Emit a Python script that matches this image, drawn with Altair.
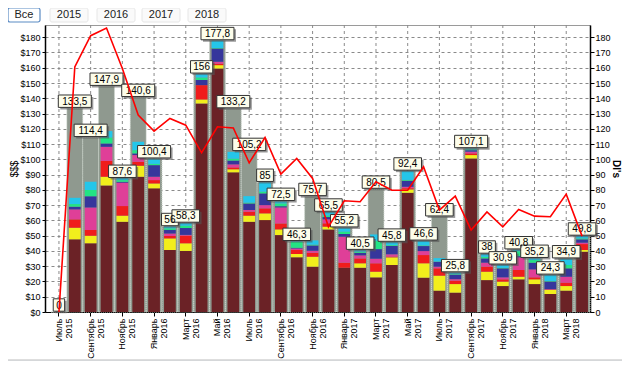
import altair as alt
import pandas as pd

months = ["Июль 2015", "Август 2015", "Сентябрь 2015", "Октябрь 2015", "Ноябрь 2015", "Декабрь 2015",
          "Январь 2016", "Февраль 2016", "Март 2016", "Апрель 2016", "Май 2016", "Июнь 2016",
          "Июль 2016", "Август 2016", "Сентябрь 2016", "Октябрь 2016", "Ноябрь 2016", "Декабрь 2016",
          "Январь 2017", "Февраль 2017", "Март 2017", "Апрель 2017", "Май 2017", "Июнь 2017",
          "Июль 2017", "Август 2017", "Сентябрь 2017", "Октябрь 2017", "Ноябрь 2017", "Декабрь 2017",
          "Январь 2018", "Февраль 2018", "Март 2018", "Апрель 2018"]

totals = [0, 133.5, 114.4, 147.9, 87.6, 140.6, 100.4, 56, 58.3, 156, 177.8, 133.2, 105.2, 85, 72.5,
          46.3, 75.7, 65.5, 55.2, 40.5, 80.5, 45.8, 92.4, 46.6, 62.4, 25.8, 107.1, 38, 30.9, 40.8,
          35.2, 24.3, 34.9, 49.8]

brown = [0, 47.6, 45, 82.9, 59.1, 88.6, 81, 40.6, 40, 136.6, 159.5, 91.5, 59.1, 60.2, 50.4, 35.8, 29.7,
         54.1, 29, 29, 22.7, 30.8, 78.1, 22.5, 14, 12.7, 100.6, 20.9, 17, 21.4, 18.3, 11.8, 14, 39.5]
yellow = [0, 7.6, 5, 5.7, 4, 7.2, 3.2, 7.6, 5, 2.6, 2.2, 2, 4, 4.4, 3.7, 2.2, 6.5, 1.8, 0, 2.9, 3.7, 5,
          2.2, 9.4, 9.8, 5.6, 2.2, 5.5, 2.9, 1.7, 3.1, 2.6, 3, 1.1]
red = [0, 5.5, 3.7, 10.4, 6.3, 2.6, 2.2, 1.6, 5, 9.4, 1, 1.2, 2.6, 3.3, 3.9, 2.6, 2.6, 2.2, 3.3, 3.2, 5.5,
       0.5, 0.8, 5.4, 4.8, 2.2, 1.1, 3.3, 1.5, 4.4, 1.3, 0.3, 2.2, 3.9]
magenta = [0, 6.5, 14.8, 9.2, 15.3, 4.4, 2.2, 1.6, 0.5, 0, 1.2, 2, 1.1, 2.1, 10.5, 1, 1.3, 2.6, 17, 2, 3,
           1.5, 0.9, 2.6, 1.1, 1, 1.1, 2.6, 1.3, 8.3, 5.2, 0.3, 3.9, 0.9]
blue = [0, 1.8, 7.4, 2.2, 0.6, 1.1, 7.6, 2.4, 4.5, 3.4, 8.7, 2.5, 4.3, 7.7, 0.8, 0.5, 3.5, 1.5, 1.8, 1.7,
        6.3, 5.5, 4, 3.3, 3.2, 3, 1, 2.8, 5.9, 0.8, 4.4, 5, 5.5, 2.2]
green = [0, 1.7, 4, 3.9, 1.1, 2.1, 0.8, 1, 1.5, 1.6, 0.3, 1.2, 0.5, 1.1, 1.8, 3.7, 0.5, 1, 1.5, 0.7, 5.4,
         0.5, 0.5, 0.4, 0.2, 0.3, 0.5, 1, 0.3, 3.2, 1.7, 0.3, 2.2, 0.6]
cyan = [0, 4.1, 5.4, 4.2, 1.5, 5.5, 3.4, 1.2, 1.8, 2.4, 4.9, 4.5, 4.3, 6.2, 1.4, 0.5, 2.8, 2.3, 2.6, 1,
        4.2, 2, 5.9, 3, 2.2, 1, 0.6, 1.9, 2, 1, 1.2, 4, 4.1, 1.6]

di = [0, 160.5, 181, 186, 159.5, 129, 118.5, 126.8, 122.4, 104.3, 121.3, 120.6, 97.7, 114.3, 90.3, 100.6,
      87.5, 55.8, 72.9, 72.2, 85.3, 79.8, 79.8, 95.1, 66.8, 75.9, 53.7, 65.6, 55.8, 67.2, 62.8, 62.4,
      77.2, 49.7]

series_names = ["s1", "s2", "s3", "s4", "s5", "s6", "s7"]
series_vals = [brown, yellow, red, magenta, blue, green, cyan]
series_colors = ["#6b2226", "#f2ee1c", "#f01c1c", "#df3f98", "#36369c", "#22e484", "#24c6ea"]

buttons = ["Все", "2015", "2016", "2017", "2018"]
y_ticks = list(range(0, 181, 10))
even_months = months[::2]

FONT = "Liberation Sans"

base_df = pd.DataFrame({"month": months, "total": totals, "di": di})
long_df = pd.DataFrame([
    {"month": m, "series": s, "ord": k, "value": vals[i]}
    for k, (s, vals) in enumerate(zip(series_names, series_vals))
    for i, m in enumerate(months)
])
grid_df = pd.DataFrame({"month": even_months})

xscale = alt.Scale(domain=months, paddingInner=0, paddingOuter=0.19, align=1)
xaxis = alt.Axis(values=even_months, labelExpr="split(datum.value, ' ')", labelAngle=-90,
                 labelFontSize=9, labelLineHeight=10, title=None, tickSize=4, grid=False,
                 labelPadding=2, domainColor="black", tickColor="black")
X = alt.X("month:N", scale=xscale, axis=xaxis, sort=months)
yscale = alt.Scale(domain=[0, 188], nice=False, zero=True)

vgrid = alt.Chart(grid_df).mark_rule(color="#8a8a8a", strokeDash=[3, 3], strokeWidth=1).encode(
    x=alt.X("month:N", scale=xscale, axis=xaxis, sort=months, bandPosition=0.5)
)

gray = alt.Chart(base_df).mark_bar(
    color="#8f998f", width=alt.RelativeBandSize(1.0), stroke="#c9d2c9", strokeWidth=1,
    strokeDash=[1, 1]
).encode(
    x=X,
    y=alt.Y("total:Q", scale=yscale, axis=alt.Axis(
        values=y_ticks, labelExpr="'$' + datum.value", title="$$$", titleFontSize=10,
        titleFontWeight="normal", titlePadding=0, labelFontSize=9, tickSize=3, labelPadding=2,
        grid=True, gridDash=[3, 3], gridColor="#8a8a8a", domainColor="black", tickColor="black",
        domainWidth=1.5))
)

stacked = alt.Chart(long_df).mark_bar(width=alt.RelativeBandSize(0.74)).encode(
    x=X,
    y=alt.Y("value:Q", stack="zero", scale=yscale, axis=None),
    color=alt.Color("series:N", scale=alt.Scale(domain=series_names, range=series_colors), legend=None),
    order=alt.Order("ord:Q", sort="ascending"),
)

line = alt.Chart(base_df).mark_line(color="#ff0000", strokeWidth=1.6).encode(
    x=X,
    y=alt.Y("di:Q", scale=yscale, axis=alt.Axis(
        orient="right", values=y_ticks, title="DI's", titleFontSize=10, titleFontWeight="bold",
        titlePadding=0, labelFontSize=9, tickSize=4, labelPadding=1, grid=False,
        domainColor="black", tickColor="black", domainWidth=1.5))
)

lab_base = alt.Chart(base_df).transform_calculate(
    lbl="replace(format(datum.total, '.1~f'), '.', ',')"
).transform_calculate(
    hw="(length(datum.lbl) * 5.4 + 6) / 20"
).transform_calculate(
    path="'M' + (-datum.hw) + ',-0.62L' + datum.hw + ',-0.62L' + datum.hw + ',0.62L' + (-datum.hw) + ',0.62Z'"
)

shadow = lab_base.mark_point(filled=True, color="#555555", opacity=0.6, size=400, xOffset=2,
                             yOffset=-5).encode(
    x=X, y=alt.Y("total:Q", scale=yscale, axis=None),
    shape=alt.Shape("path:N", scale=None, legend=None),
)
box = lab_base.mark_point(filled=True, fill="#fdfdea", stroke="#333333", strokeWidth=1, opacity=1,
                          size=400, yOffset=-7).encode(
    x=X, y=alt.Y("total:Q", scale=yscale, axis=None),
    shape=alt.Shape("path:N", scale=None, legend=None),
)
text = lab_base.mark_text(font=FONT, fontSize=10, baseline="middle", align="center", yOffset=-6.5,
                          color="black").encode(
    x=X, y=alt.Y("total:Q", scale=yscale, axis=None), text="lbl:N"
)

# top selector buttons (decoration)
btn_layers = []
btn_centers = [-21, 24, 71, 116, 162]
for name, cx in zip(buttons, btn_centers):
    sel = name == "Все"
    half = 16 if sel else 19
    d = pd.DataFrame({"b": [name]})
    btn_layers.append(
        alt.Chart(d).mark_rect(
            fill="#ffffff" if sel else "#fafafa",
            stroke="#5b8bc4" if sel else "#e6e6e6", strokeWidth=1.2 if sel else 1,
            cornerRadius=2,
        ).encode(x=alt.value(cx - half), x2=alt.value(cx + half), y=alt.value(-17), y2=alt.value(-3))
    )
    btn_layers.append(
        alt.Chart(d).mark_text(font=FONT, fontSize=11, baseline="middle", align="center",
                               color="#222222").encode(
            x=alt.value(cx), y=alt.value(-10), text="b:N")
    )

bottom_strip = alt.Chart(pd.DataFrame({"b": [0]})).mark_rect(
    fill="#eef2f6", stroke="#bcbcbc", strokeWidth=1
).encode(x=alt.value(-38), x2=alt.value(580), y=alt.value(335), y2=alt.value(345))

chart = alt.layer(
    vgrid, gray, stacked, shadow, box, text, line, bottom_strip, *btn_layers
).resolve_scale(y="independent").properties(
    width=545, height=287,
    autosize=alt.AutoSizeParams(type="none"),
    padding={"left": 37, "top": 17, "right": 32, "bottom": 49},
    background="white",
).configure_view(stroke="#9a9a9a").configure_axis(
    labelFont=FONT, titleFont=FONT, labelColor="black", titleColor="black"
)

chart.save("out.html", embed_options={"renderer": "svg", "actions": False})
